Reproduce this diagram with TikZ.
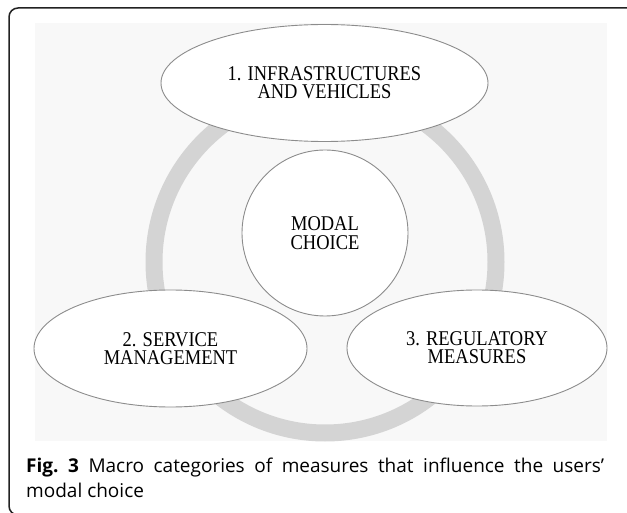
\documentclass[tikz,border=0pt]{standalone}
\usepackage{fontspec}
\setmainfont{Liberation Serif}
\newfontfamily\labfont[FakeStretch=0.88]{Liberation Serif}
\newfontfamily\capfont{Open Sans}
\usetikzlibrary{shapes.geometric}
\definecolor{bggray}{HTML}{F8F8F8}
\definecolor{ringgray}{HTML}{D4D4D4}
\definecolor{edgegray}{HTML}{8C8C8C}
\definecolor{framecol}{HTML}{222222}
\tikzset{
  catnode/.style={ellipse, draw=edgegray, line width=0.9pt, fill=white, inner sep=0pt,
    align=center, font=\labfont\fontsize{21pt}{18pt}\selectfont},
  corenode/.style={circle, draw=edgegray, line width=0.9pt, fill=white, inner sep=0pt,
    align=center, font=\labfont\fontsize{21pt}{18.5pt}\selectfont},
  ringnode/.style={circle, draw=ringgray, line width=17pt, inner sep=0pt},
  captext/.style={inner sep=0pt, align=left, font=\capfont\fontsize{19pt}{25pt}\selectfont}
}
\begin{document}
\begin{tikzpicture}[x=1pt,y=-1pt]
\useasboundingbox (0,0) rectangle (627,513);
% outer frame
\draw[framecol, line width=1.5pt, rounded corners=9pt] (640,8) -- (9,8) -- (9,515) -- (60,515);
% background panel
\fill[bggray] (35,23) rectangle (607,441);
% ring
\node[ringnode, minimum size=342pt] (ring) at (325,262) {};
% centre
\node[corenode, minimum size=166pt] (modal) at (325,233) {MODAL\\CHOICE};
% categories
\node[catnode, minimum width=327pt, minimum height=117pt] (infra) at (324.5,83) {1. INFRASTRUCTURES\\AND VEHICLES};
\node[catnode, minimum width=273pt, minimum height=117pt] (service) at (170.5,348.5) {2. SERVICE\\MANAGEMENT};
\node[catnode, minimum width=260pt, minimum height=116pt] (regul) at (477,348) {3. REGULATORY\\MEASURES};
% caption
\node[captext, anchor=north west] (caption) at (26,458) {\makebox[578pt][s]{\textbf{Fig.~3} Macro categories of measures that influence the users’}\\modal choice};
\end{tikzpicture}
\end{document}
